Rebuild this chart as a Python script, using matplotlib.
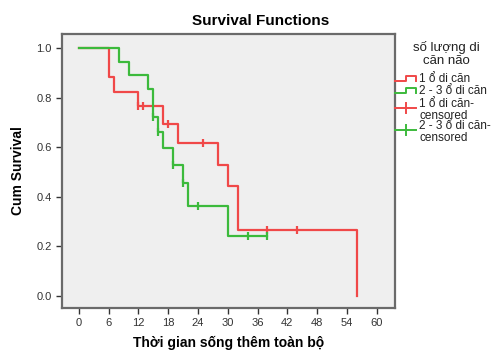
import matplotlib
matplotlib.use("Agg")
import matplotlib.pyplot as plt

plt.rcParams['font.family'] = ['Liberation Sans', 'DejaVu Sans']

# step curves (time of drop, survival after drop)
red_times = [0, 6, 7, 12, 17, 20, 28, 30, 32, 56]
red_surv = [1.0, 0.882, 0.824, 0.765, 0.695, 0.618, 0.530, 0.442, 0.265, 0.0]
red_cens_t = [12, 13, 18, 25, 38, 44]
red_cens_s = [0.765, 0.765, 0.695, 0.618, 0.265, 0.265]

green_times = [0, 8, 10, 14, 15, 16, 17, 19, 21, 22, 30, 38]
green_surv = [1.0, 0.944, 0.889, 0.833, 0.722, 0.662, 0.596, 0.530, 0.454, 0.363, 0.242, 0.242]
green_cens_t = [15, 16, 19, 21, 24, 34, 38]
green_cens_s = [0.722, 0.662, 0.530, 0.454, 0.363, 0.242, 0.242]

x_ticks = [0, 6, 12, 18, 24, 30, 36, 42, 48, 54, 60]
y_ticks = [0.0, 0.2, 0.4, 0.6, 0.8, 1.0]
legend_labels = ["1 ổ di căn", "2 - 3 ổ di căn", "1 ổ di căn-\ncensored", "2 - 3 ổ di căn-\ncensored"]

RED = '#f04848'
GREEN = '#3cba3c'
FRAME = '#6a6a6a'

fig = plt.figure(figsize=(4.92, 3.51), dpi=100)
ax = fig.add_axes([62 / 492, 1 - 308 / 351, 333 / 492, 274 / 351])
ax.set_facecolor('#efefef')

ax.step(red_times, red_surv, where='post', color=RED, lw=1.6)
ax.step(green_times, green_surv, where='post', color=GREEN, lw=1.6)
ax.plot(red_cens_t, red_cens_s, ls='none', marker='|', ms=6, mew=1.6, color=RED)
ax.plot(green_cens_t, green_cens_s, ls='none', marker='|', ms=6, mew=1.6, color=GREEN)

ax.set_xlim(-3.4, 63.7)
ax.set_ylim(-0.048, 1.056)
ax.set_xticks(x_ticks)
ax.set_yticks(y_ticks)
ax.set_yticklabels([f"{v:.1f}" for v in y_ticks])
ax.tick_params(labelsize=8, colors='#333333', length=4, width=1, direction='out')
for s in ax.spines.values():
    s.set_color(FRAME)
    s.set_linewidth(1.6)

ax.set_ylabel("Cum Survival", fontsize=10, fontweight='bold', labelpad=8)
fig.text(229 / 492, 1 - 343 / 351, "Thời gian sống thêm toàn bộ", ha='center', va='center',
         fontsize=10, fontweight='bold')
fig.text(261 / 492, 1 - 21 / 351, "Survival Functions", ha='center', va='center',
         fontsize=11, fontweight='bold')

# legend drawn by hand in pixel coordinates to get the SPSS style icons
lg = fig.add_axes([0, 0, 1, 1], facecolor='none')
lg.set_xlim(0, 492)
lg.set_ylim(351, 0)
lg.axis('off')
lg.text(446, 54, "số lượng di\ncăn não", ha='center', va='center', fontsize=9.5,
        linespacing=1.05, color='#222222')
colors = [RED, GREEN, RED, GREEN]
ys = [79, 91, 110, 132]
for i, (lab, c, y) in enumerate(zip(legend_labels, colors, ys)):
    if i < 2:
        lg.plot([395, 406, 406, 416, 416], [y + 2, y + 2, y - 3, y - 3, y + 2], color=c, lw=1.4)
    else:
        lg.plot([395, 416], [y - 2, y - 2], color=c, lw=1.4)
        lg.plot([405.5, 405.5], [y - 7, y + 3], color=c, lw=1.4)
    lg.text(419, y, lab, ha='left', va='center', fontsize=8.5, linespacing=0.9, color='#222222')

fig.savefig('out.png', dpi=100)
